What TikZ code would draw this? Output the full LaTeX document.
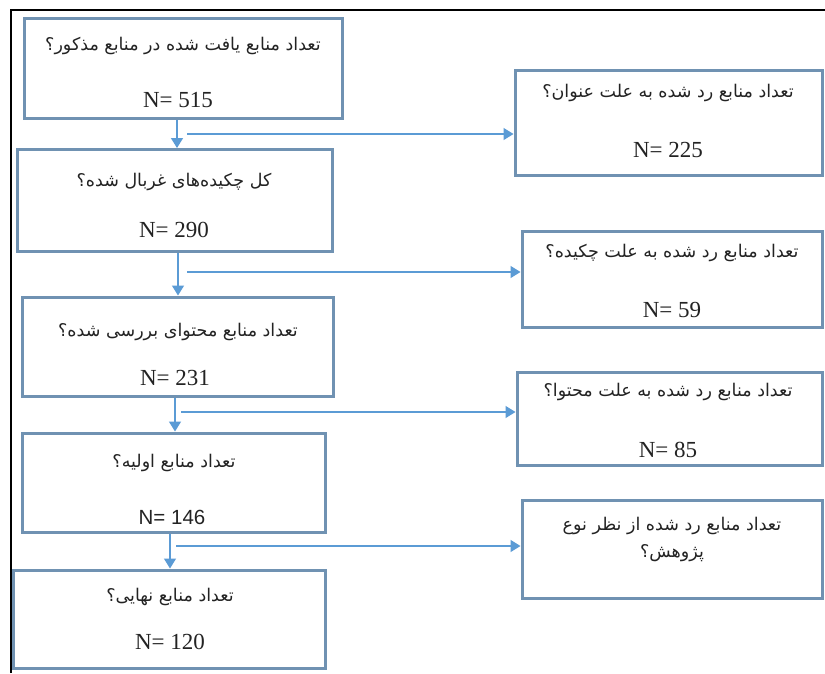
\documentclass[tikz,border=0pt]{standalone}
\usepackage{fontspec}
\setmainfont{Liberation Serif}
\newfontfamily\fa[Script=Arabic]{DejaVu Sans}
\newfontfamily\sansN{Liberation Sans}
\TeXXeTstate=1
\usetikzlibrary{arrows.meta}
\definecolor{boxc}{RGB}{112,146,178}
\definecolor{arrc}{RGB}{91,155,213}
\definecolor{txt}{RGB}{35,35,35}
\begin{document}
\begin{tikzpicture}[x=1pt,y=-1pt,
  box/.style={draw=boxc,line width=3pt,fill=white,inner sep=0pt},
  fatext/.style={text=txt,font=\fa\fontsize{17.5}{21}\selectfont,inner sep=0pt},
  ntext/.style={text=txt,font=\fontsize{23}{27}\selectfont,inner sep=0pt},
  arr/.style={draw=arrc,line width=1.4pt,-{Triangle[length=10pt,width=12pt]}},
  frame/.style={draw=black,line width=2pt}]
\useasboundingbox (0,0) rectangle (825,673);
\fill[white] (0,0) rectangle (825,673);
\draw[frame] (11,673) -- (11,10) -- (825,10);

% left column
\node[box,minimum width=318pt,minimum height=100pt] (b1) at (183,68) {};
\node[box,minimum width=315pt,minimum height=102pt] (b2) at (174.5,200.5) {};
\node[box,minimum width=311pt,minimum height=99pt] (b3) at (178,346.5) {};
\node[box,minimum width=303pt,minimum height=99pt] (b4) at (173.5,482.5) {};
\node[box,minimum width=312pt,minimum height=98pt] (b5) at (169,619) {};
% right column
\node[box,minimum width=307pt,minimum height=105pt] (r1) at (668.5,122.5) {};
\node[box,minimum width=300pt,minimum height=96pt] (r2) at (672,279) {};
\node[box,minimum width=305pt,minimum height=93pt] (r3) at (669.5,418.5) {};
\node[box,minimum width=300pt,minimum height=98pt] (r4) at (672,549) {};

% texts
\node[fatext] (b1t) at (183,46) {\beginR تعداد منابع یافت شده در منابع مذکور؟\endR};
\node[ntext] (b1n) at (178,100) {N= 515};
\node[fatext] (b2t) at (174,182) {\beginR کل چکیده‌های غربال شده؟\endR};
\node[ntext] (b2n) at (174,230) {N= 290};
\node[fatext] (b3t) at (178,332) {\beginR تعداد منابع محتوای بررسی شده؟\endR};
\node[ntext] (b3n) at (175,378) {N= 231};
\node[fatext] (b4t) at (174,463) {\beginR تعداد منابع اولیه؟\endR};
\node[ntext,font=\sansN\fontsize{20.5}{24}\selectfont] (b4n) at (172,517) {N= 146};
\node[fatext] (b5t) at (170,597) {\beginR تعداد منابع نهایی؟\endR};
\node[ntext] (b5n) at (170,642) {N= 120};

\node[fatext] (r1t) at (668,93) {\beginR تعداد منابع رد شده به علت عنوان؟\endR};
\node[ntext] (r1n) at (668,150) {N= 225};
\node[fatext] (r2t) at (672,253) {\beginR تعداد منابع رد شده به علت چکیده؟\endR};
\node[ntext] (r2n) at (672,310) {N= 59};
\node[fatext] (r3t) at (668,392) {\beginR تعداد منابع رد شده به علت محتوا؟\endR};
\node[ntext] (r3n) at (668,450) {N= 85};
\node[fatext] (r4t) at (672,526) {\beginR تعداد منابع رد شده از نظر نوع\endR};
\node[fatext] (r4u) at (672,553) {\beginR پژوهش؟\endR};

% vertical arrows
\coordinate (v1) at (177,0);
\coordinate (v2) at (178,0);
\coordinate (v3) at (175,0);
\coordinate (v4) at (170,0);
\draw[arr] (v1 |- b1.south) -- (v1 |- b2.north);
\draw[arr] (v2 |- b2.south) -- (v2 |- b3.north);
\draw[arr] (v3 |- b3.south) -- (v3 |- b4.north);
\draw[arr] (v4 |- b4.south) -- (v4 |- b5.north);

% horizontal arrows
\coordinate (s1) at (187,134);
\coordinate (s2) at (187,272);
\coordinate (s3) at (181,412);
\coordinate (s4) at (176,546);
\draw[arr] (s1) -- (s1 -| r1.west);
\draw[arr] (s2) -- (s2 -| r2.west);
\draw[arr] (s3) -- (s3 -| r3.west);
\draw[arr] (s4) -- (s4 -| r4.west);
\end{tikzpicture}
\end{document}
